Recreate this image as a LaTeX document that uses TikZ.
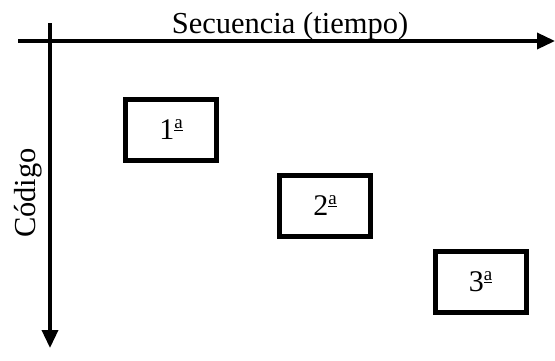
\documentclass[tikz,border=0pt]{standalone}
\usepackage{fontspec}
\setmainfont{Liberation Serif}
\usetikzlibrary{arrows.meta}
\newcommand\myord{\raisebox{11pt}{\fontsize{19}{19}\selectfont\underline{a}}}
\begin{document}
\begin{tikzpicture}[x=1pt,y=-1pt,
  box/.style={draw, line width=5pt, minimum width=91pt, minimum height=61pt, inner sep=0pt, font=\fontsize{30}{34}\selectfont},
  axis/.style={line width=3.5pt, -{Triangle[length=18pt,width=16pt]}},
  lbl/.style={font=\fontsize{30.5}{34}\selectfont, inner sep=0pt}]
\useasboundingbox (0,0) rectangle (555,360);
\coordinate (hs) at (18,41);
\coordinate (he) at (555,41);
\coordinate (vs) at (50,23);
\coordinate (ve) at (50,348);
\draw[axis] (hs) -- (he);
\draw[axis] (vs) -- (ve);
\node[lbl, anchor=base] (sec) at (290,33) {Secuencia (tiempo)};
\node[lbl, rotate=90] (cod) at (28,193) {Código};
\node[box] (b1) at (171,130) {1\myord};
\node[box] (b2) at (325,206) {2\myord};
\node[box] (b3) at (480.5,282) {3\myord};
\end{tikzpicture}
\end{document}
